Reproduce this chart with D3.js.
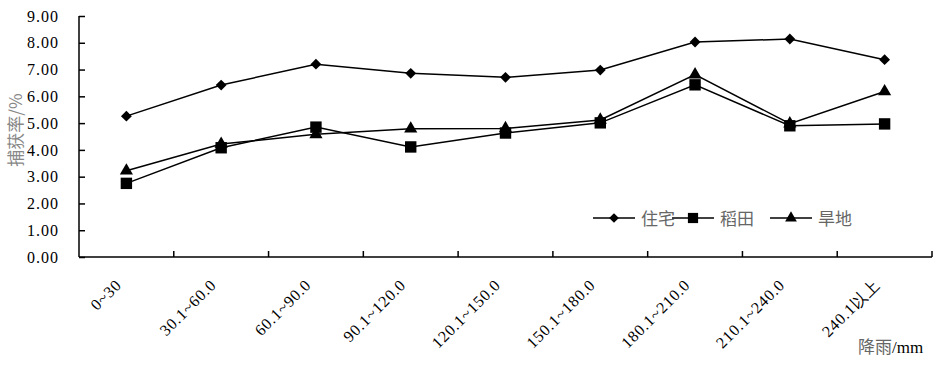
<!DOCTYPE html>
<html>
<head>
<meta charset="utf-8">
<script src="https://cdn.jsdelivr.net/npm/d3@7"></script>
<style>
  body { margin: 0; background: #fff; }
  svg text { font-family: "Liberation Serif", "Times New Roman", serif; }
  svg text.cjk, svg tspan.cjk { font-family: "Noto Sans CJK SC", sans-serif; }
</style>
</head>
<body>
<svg id="chart" width="950" height="369"></svg>
<script>
// rainfall classes (mm)
const categories = ["0~30", "30.1~60.0", "60.1~90.0", "90.1~120.0", "120.1~150.0",
                    "150.1~180.0", "180.1~210.0", "210.1~240.0", "240.1以上"];
const zhuzhai = [5.26, 6.42, 7.20, 6.86, 6.71, 6.98, 8.03, 8.14, 7.37];   // 住宅
const daotian = [2.75, 4.08, 4.85, 4.11, 4.63, 5.01, 6.43, 4.90, 4.97];   // 稻田
const handi   = [3.22, 4.22, 4.58, 4.79, 4.80, 5.12, 6.81, 4.98, 6.18];   // 旱地
const yTicks  = [0, 1, 2, 3, 4, 5, 6, 7, 8, 9];

const series = [
  { name: "住宅", values: zhuzhai, symbol: d3.symbolDiamond2, size: 75 },
  { name: "稻田", values: daotian, symbol: d3.symbolSquare,   size: 130 },
  { name: "旱地", values: handi,   symbol: d3.symbolTriangle, size: 75 },
];

const svg = d3.select("#chart");
const m = { left: 79, right: 932, top: 16, bottom: 257 };

const x = d3.scaleBand().domain(categories).range([m.left, m.right]);
const y = d3.scaleLinear().domain([0, 9]).range([m.bottom, m.top]);
const cx = c => x(c) + x.bandwidth() / 2;

// y axis
const yAxis = svg.append("g")
  .attr("transform", `translate(${m.left},0)`)
  .call(d3.axisLeft(y).tickValues(yTicks).tickFormat(d3.format(".2f")).tickSize(5).tickPadding(15));
yAxis.select(".domain").attr("stroke", "#000").attr("stroke-width", 1.5).attr("d", `M0,${m.top}V${m.bottom}`);
yAxis.selectAll(".tick line").attr("stroke", "#000").attr("stroke-width", 1.5).attr("x1", 0).attr("x2", 6);
yAxis.selectAll(".tick text").attr("font-size", 16).attr("letter-spacing", 1).attr("fill", "#000");

// x axis
const xAxis = svg.append("g").attr("transform", `translate(0,${m.bottom})`);
xAxis.append("line").attr("x1", m.left).attr("x2", m.right).attr("stroke", "#000").attr("stroke-width", 1.5);
const edges = categories.map(c => x(c)).slice(1).concat([m.right]);
xAxis.selectAll("line.tk").data(edges).enter().append("line")
  .attr("class", "tk")
  .attr("x1", d => d).attr("x2", d => d).attr("y1", 0).attr("y2", -6)
  .attr("stroke", "#000").attr("stroke-width", 1.5);
xAxis.selectAll("text").data(categories).enter().append("text")
  .attr("transform", d => `translate(${cx(d) - 4},29) rotate(-45)`)
  .attr("text-anchor", "end")
  .attr("font-size", 16)
  .attr("letter-spacing", 0.8)
  .text(d => d);

// lines + markers
const line = d3.line().x((d, i) => cx(categories[i])).y(d => y(d));
series.forEach(s => {
  svg.append("path").datum(s.values)
    .attr("d", line).attr("fill", "none").attr("stroke", "#000").attr("stroke-width", 1.5);
  svg.selectAll(null).data(s.values).enter().append("path")
    .attr("d", d3.symbol().type(s.symbol).size(s.size))
    .attr("transform", (d, i) => `translate(${cx(categories[i])},${y(d)})`)
    .attr("fill", "#000");
});

// legend
const lg = svg.append("g").attr("transform", "translate(593,218)");
const lgX = [0, 79, 177];
series.forEach((s, i) => {
  const g = lg.append("g").attr("transform", `translate(${lgX[i]},0)`);
  g.append("line").attr("x1", 0).attr("x2", 42).attr("stroke", "#000").attr("stroke-width", 1.5);
  g.append("path").attr("d", d3.symbol().type(s.symbol).size(s.size * 0.8)).attr("transform", "translate(21,0)");
  g.append("text").attr("class", "cjk").attr("x", 48).attr("y", 7)
    .attr("font-size", 17).attr("fill", "#666").text(s.name);
});

// axis titles
svg.append("text").attr("class", "cjk")
  .attr("transform", "translate(22,130) rotate(-90)")
  .attr("text-anchor", "middle").attr("font-size", 17).attr("fill", "#888")
  .text("捕获率/%");
svg.append("text")
  .attr("x", 858).attr("y", 353).attr("font-size", 17)
  .html('<tspan class="cjk" fill="#666">降雨</tspan><tspan>/mm</tspan>');
</script>
</body>
</html>
